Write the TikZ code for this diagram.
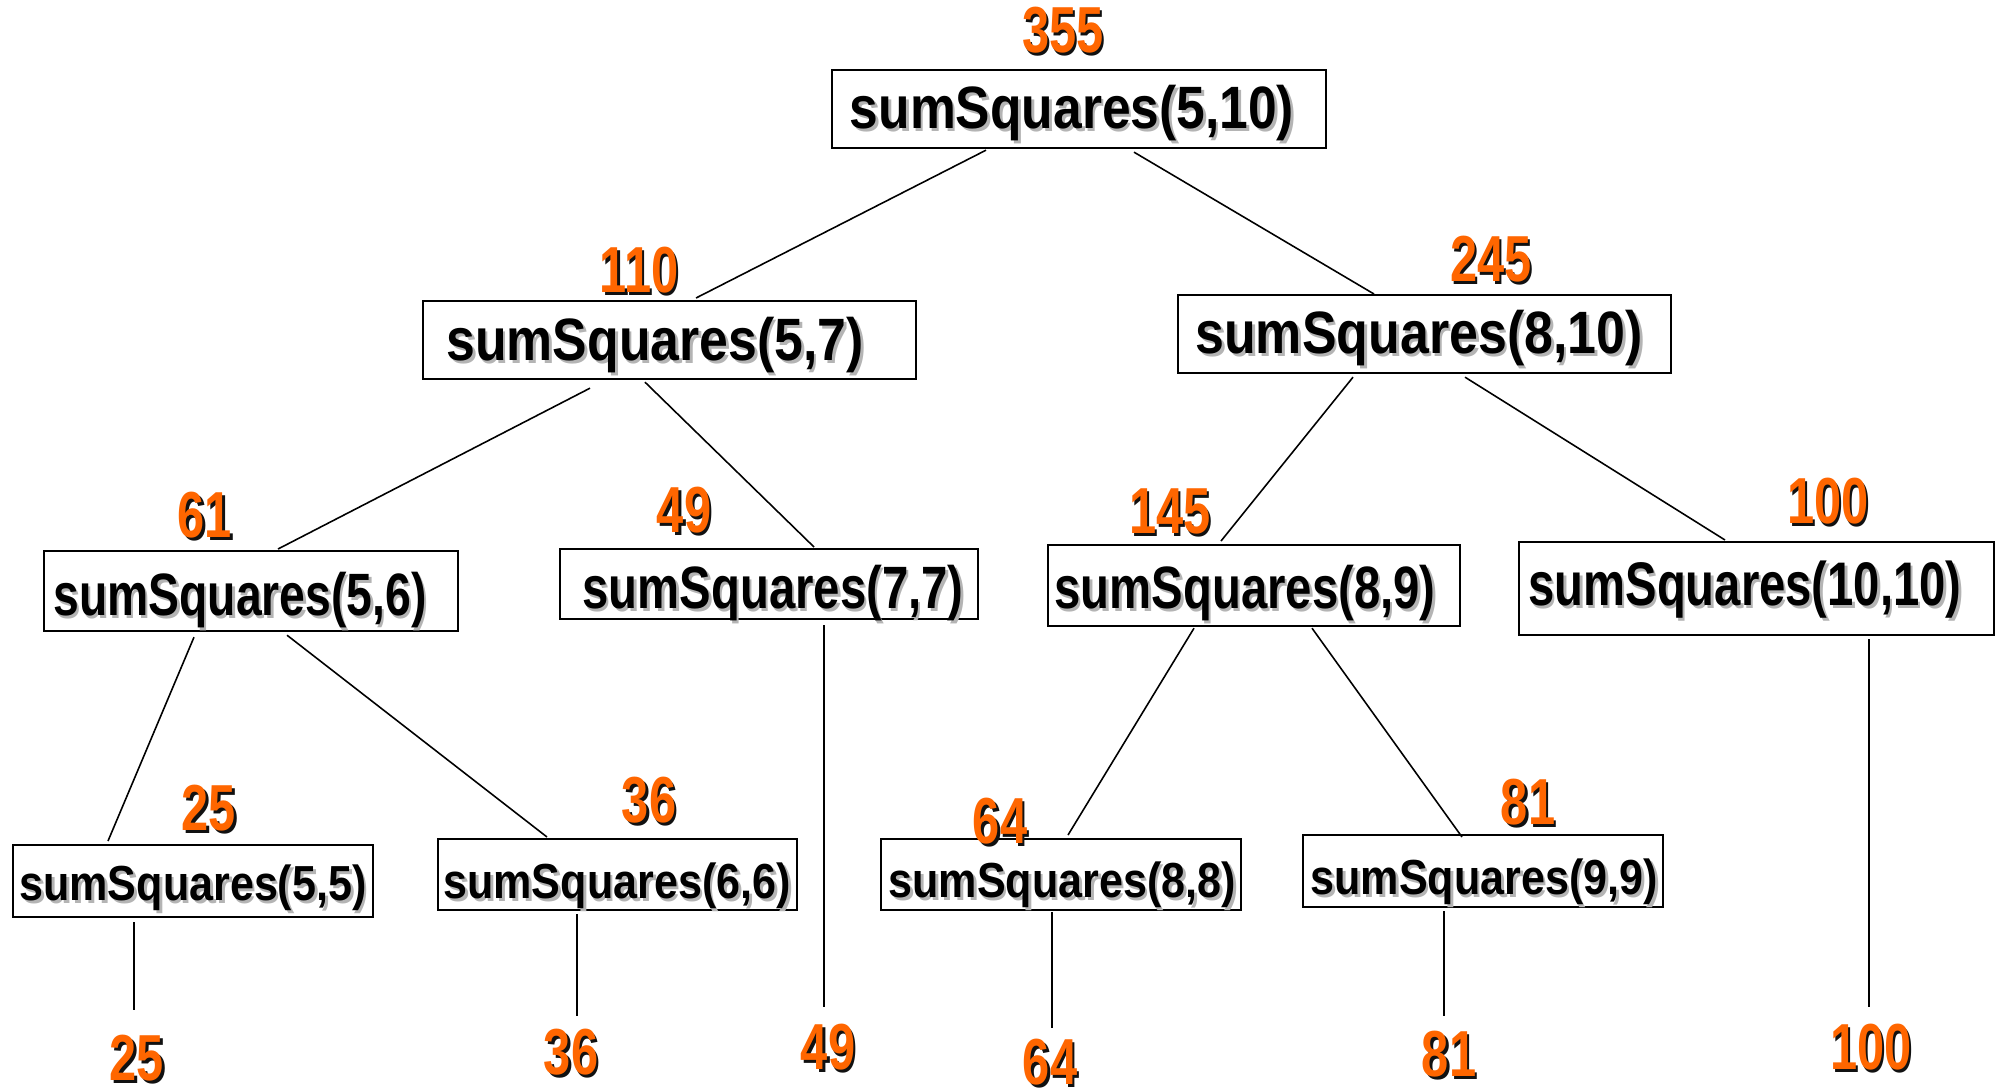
\documentclass[tikz,border=0pt]{standalone}
\usepackage{fontspec}
\setmainfont{Liberation Sans}
\usetikzlibrary{calc}
\definecolor{orng}{HTML}{FF6600}
\definecolor{shgray}{HTML}{B4B4B4}
\definecolor{shdark}{HTML}{111111}
\newcommand\shadtxt[3]{\makebox[0pt][l]{\hspace{0.9pt}\raisebox{-0.9pt}{\textcolor{#1}{#3}}}\textcolor{#2}{#3}}
\newcommand\calltxt[3]{\resizebox{#2}{\height}{\fontsize{#1}{#1}\selectfont\bfseries\shadtxt{shgray}{black}{#3}}}
\newcommand\numtxt[1]{\scalebox{0.75}[1]{\fontsize{18.5pt}{18.5pt}\selectfont\bfseries\shadtxt{shdark}{orng}{#1}}}
\tikzset{
  box/.style={draw, line width=0.6pt, rectangle, inner sep=0pt, anchor=north west},
  ctext/.style={inner sep=0pt, anchor=base},
  num/.style={inner sep=0pt, anchor=base},
  conn/.style={draw, line width=0.45pt}
}
\begin{document}
\begin{tikzpicture}[x=0.01cm, y=-0.01cm]
\path[use as bounding box] (0,0) rectangle (1998,1090);

% boxes
\node[box, minimum width=4.94cm, minimum height=0.78cm] (root)  at (831,69)   {};
\node[box, minimum width=4.93cm, minimum height=0.78cm] (n57)   at (422,300)  {};
\node[box, minimum width=4.93cm, minimum height=0.78cm] (n810)  at (1177,294) {};
\node[box, minimum width=4.14cm, minimum height=0.80cm] (n56)   at (43,550)   {};
\node[box, minimum width=4.18cm, minimum height=0.70cm] (n77)   at (559,548)  {};
\node[box, minimum width=4.12cm, minimum height=0.81cm] (n89)   at (1047,544) {};
\node[box, minimum width=4.75cm, minimum height=0.93cm] (n1010) at (1518,541) {};
\node[box, minimum width=3.60cm, minimum height=0.72cm] (n55)   at (12,844)   {};
\node[box, minimum width=3.59cm, minimum height=0.71cm] (n66)   at (437,838)  {};
\node[box, minimum width=3.60cm, minimum height=0.71cm] (n88)   at (880,838)  {};
\node[box, minimum width=3.60cm, minimum height=0.72cm] (n99)   at (1302,834) {};

% free ends of the leaf connectors
\coordinate (e25)  at (134,1010);
\coordinate (e36)  at (577,1016);
\coordinate (e49)  at (824,1007);
\coordinate (e64)  at (1052,1028);
\coordinate (e81)  at (1444,1016);
\coordinate (e100) at (1869,1007);

% connectors
\path[conn] ($(root.south west)+(155,1)$) -- ($(n57.north west)+(274,-2)$);
\path[conn] ($(root.south west)+(303,3)$) -- ($(n810.north west)+(197,0)$);
\path[conn] ($(n57.south west)+(168,8)$) -- ($(n56.north west)+(235,-1)$);
\path[conn] ($(n57.south west)+(223,2)$) -- ($(n77.north west)+(255,-1)$);
\path[conn] ($(n810.south west)+(176,3)$) -- ($(n89.north west)+(174,-3)$);
\path[conn] ($(n810.south west)+(288,3)$) -- ($(n1010.north west)+(207,-1)$);
\path[conn] ($(n56.south west)+(151,5)$) -- ($(n55.north west)+(96,-3)$);
\path[conn] ($(n56.south west)+(244,3)$) -- ($(n66.north west)+(110,-1)$);
\path[conn] ($(n77.south west)+(265,5)$) -- (e49);
\path[conn] ($(n89.south west)+(147,1)$) -- ($(n88.north west)+(188,-3)$);
\path[conn] ($(n89.south west)+(265,1)$) -- ($(n99.north west)+(160,3)$);
\path[conn] ($(n1010.south west)+(351,3)$) -- (e100);
\path[conn] ($(n55.south west)+(122,4)$) -- (e25);
\path[conn] ($(n66.south west)+(140,3)$) -- (e36);
\path[conn] ($(n88.south west)+(172,1)$) -- (e64);
\path[conn] ($(n99.south west)+(142,3)$) -- (e81);

% call texts
\node[ctext] (troot)  at (1072,128) {\calltxt{17pt}{4.44cm}{sumSquares(5,10)}};
\node[ctext] (t57)    at (655,360)  {\calltxt{17pt}{4.17cm}{sumSquares(5,7)}};
\node[ctext] (t810)   at (1419,353) {\calltxt{17pt}{4.47cm}{sumSquares(8,10)}};
\node[ctext] (t56)    at (240,615)  {\calltxt{17pt}{3.73cm}{sumSquares(5,6)}};
\node[ctext] (t77)    at (773,608)  {\calltxt{17pt}{3.81cm}{sumSquares(7,7)}};
\node[ctext] (t89)    at (1245,608) {\calltxt{17pt}{3.81cm}{sumSquares(8,9)}};
\node[ctext] (t1010)  at (1745,605) {\calltxt{17.5pt}{4.33cm}{sumSquares(10,10)}};
\node[ctext] (t55)    at (193,900)  {\calltxt{14pt}{3.47cm}{sumSquares(5,5)}};
\node[ctext] (t66)    at (617,898)  {\calltxt{14pt}{3.47cm}{sumSquares(6,6)}};
\node[ctext] (t88)    at (1062,897) {\calltxt{14pt}{3.47cm}{sumSquares(8,8)}};
\node[ctext] (t99)    at (1484,894) {\calltxt{14pt}{3.47cm}{sumSquares(9,9)}};

% results
\node[num] (l355) at (1063,52)  {\numtxt{355}};
\node[num] (l110) at (639,292)  {\numtxt{110}};
\node[num] (l245) at (1491,281) {\numtxt{245}};
\node[num] (l61)  at (205,537)  {\numtxt{61}};
\node[num] (l49)  at (684,532)  {\numtxt{49}};
\node[num] (l145) at (1170,533) {\numtxt{145}};
\node[num] (l100) at (1828,523) {\numtxt{100}};
\node[num] (l25)  at (209,830)  {\numtxt{25}};
\node[num] (l36)  at (649,822)  {\numtxt{36}};
\node[num] (l64)  at (1000,843) {\numtxt{64}};
\node[num] (l81)  at (1528,824) {\numtxt{81}};

\node[num] (b25)  at (137,1080) {\numtxt{25}};
\node[num] (b36)  at (571,1074) {\numtxt{36}};
\node[num] (b49)  at (828,1069) {\numtxt{49}};
\node[num] (b64)  at (1050,1084) {\numtxt{64}};
\node[num] (b81)  at (1449,1076) {\numtxt{81}};
\node[num] (b100) at (1871,1069) {\numtxt{100}};
\end{tikzpicture}
\end{document}
